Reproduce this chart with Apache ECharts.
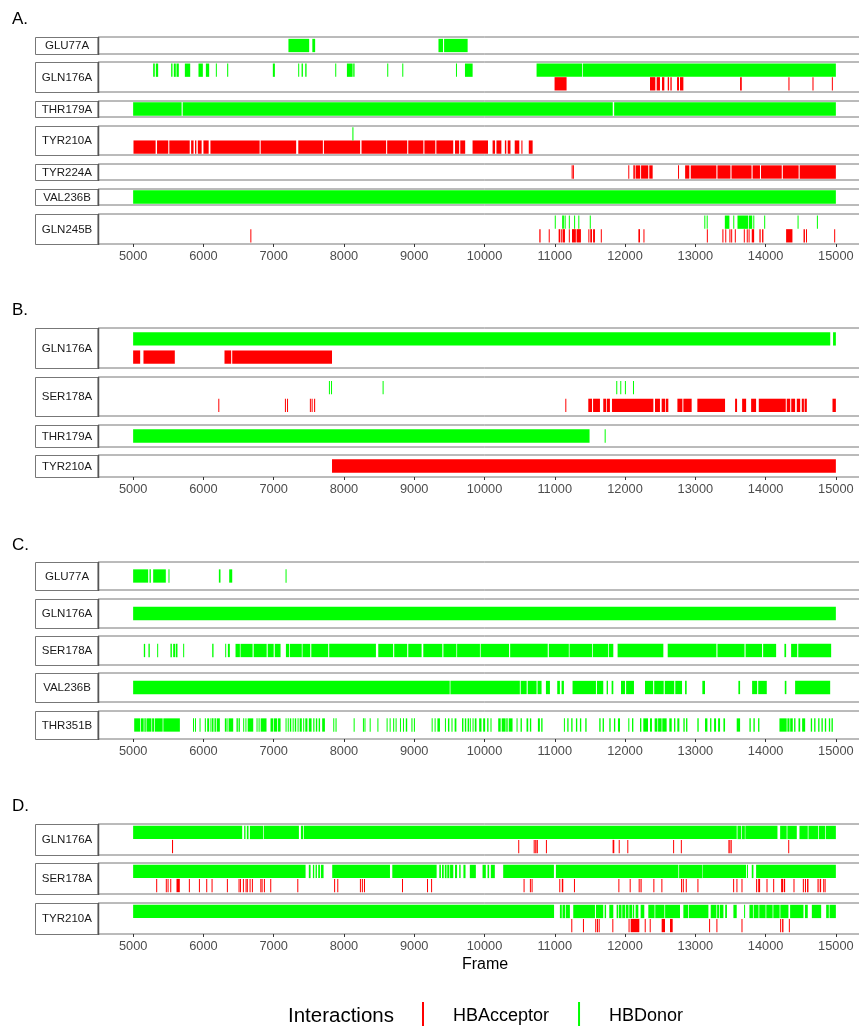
<!DOCTYPE html>
<html><head><meta charset="utf-8">
<script src="https://cdn.jsdelivr.net/npm/echarts@6/dist/echarts.min.js"></script>
<style>html,body{margin:0;padding:0;background:#fff;overflow:hidden}#c{width:872px;height:1026px}</style>
</head><body><div id="c"></div>
<script>
// ---------------- DATA ----------------
const frameTicks = [5000,6000,7000,8000,9000,10000,11000,12000,13000,14000,15000];
const interactionTypes = ['HBAcceptor','HBDonor'];
const panelTitles = ['A.','B.','C.','D.'];

// Panel A
const A_GLU77A_acc = [];
const A_GLU77A_don = [[7210,7505],[7550,7590],[9345,9410],[9425,9760]];
const A_GLN176A_acc = [[10997,11168],[12355,12431],[12450,12497],[12526,12559],[12607,12626],[12645,12664],[12740,12768],[12782,12830],[13637,13661],[14325,14340],[14667,14682],[14943,14957]];
const A_GLN176A_don = [[5285,5308],[5323,5356],[5541,5560],[5579,5607],[5617,5650],[5736,5812],[5930,5992],[6035,6082],[6177,6191],[6338,6353],[6988,7017],[7349,7363],[7397,7416],[7449,7468],[7876,7890],[8042,8123],[8132,8151],[8616,8630],[8830,8844],[9594,9608],[9722,9831],[10741,11391],[11401,15000]];
const A_THR179A_acc = [];
const A_THR179A_don = [[5000,5690],[5705,11825],[11845,15000]];
const A_TYR210A_acc = [[5005,5320],[5340,5500],[5515,5805],[5825,5860],[5880,5900],[5920,5975],[6000,6075],[6100,6800],[6815,7320],[7350,7700],[7715,8230],[8250,8600],[8615,8900],[8915,9130],[9145,9300],[9315,9555],[9580,9640],[9655,9725],[9830,10050],[10115,10150],[10170,10240],[10290,10310],[10330,10370],[10430,10495],[10525,10540],[10630,10685]];
const A_TYR210A_don = [[8120,8135]];
const A_TYR224A_acc = [[11240,11250],[11258,11268],[12046,12060],[12118,12140],[12150,12215],[12228,12330],[12345,12393],[12754,12768],[12855,12915],[12935,13300],[13315,13500],[13515,13800],[13815,13920],[13935,14230],[14245,14470],[14485,15000]];
const A_TYR224A_don = [];
const A_VAL236B_acc = [];
const A_VAL236B_don = [[5000,15000]];
const A_GLN245B_acc = [[6668,6676],[10780,10798],[10914,10922],[11055,11075],[11085,11100],[11110,11145],[11200,11210],[11245,11300],[11310,11372],[11478,11490],[11505,11530],[11545,11572],[11655,11663],[12190,12213],[12262,12270],[13164,13172],[13385,13400],[13426,13434],[13485,13500],[13510,13518],[13562,13570],[13690,13698],[13732,13745],[13758,13770],[13803,13837],[13912,13930],[13950,13969],[14292,14382],[14540,14560],[14575,14587],[14976,14990]];
const A_GLN245B_don = [[11000,11008],[11105,11130],[11140,11155],[11200,11210],[11275,11285],[11335,11345],[11498,11506],[13128,13136],[13162,13172],[13420,13485],[13540,13548],[13600,13750],[13760,13810],[13825,13833],[13980,13988],[14455,14463],[14730,14738]];

// Panel B
const B_GLN176A_acc = [[5000,5100],[5147,5593],[6300,6395],[6410,7830]];
const B_GLN176A_don = [[5000,14920],[14960,15000]];
const B_SER178A_acc = [[6212,6220],[7160,7170],[7190,7200],[7515,7525],[7540,7550],[7575,7590],[11150,11158],[11477,11530],[11545,11643],[11690,11730],[11740,11785],[11814,12403],[12426,12497],[12521,12570],[12580,12616],[12745,12816],[12830,12948],[13029,13423],[13566,13594],[13666,13723],[13794,13865],[13903,14287],[14301,14350],[14365,14420],[14444,14492],[14515,14545],[14555,14587],[14952,15000]];
const B_SER178A_don = [[7786,7796],[7816,7826],[8550,8560],[11875,11885],[11932,11942],[11998,12008],[12113,12123]];
const B_THR179A_acc = [];
const B_THR179A_don = [[5000,11495],[11710,11718]];
const B_TYR210A_acc = [[7830,15000]];
const B_TYR210A_don = [];

// Panel C
const C_GLU77A_acc = [];
const C_GLU77A_don = [[5000,5214],[5233,5252],[5285,5465],[5503,5517],[6220,6243],[6367,6410],[7169,7183]];
const C_GLN176A_acc = [];
const C_GLN176A_don = [[5000,15000]];
const C_SER178A_acc = [];
const C_SER178A_don = [[5152,5171],[5218,5237],[5342,5356],[5531,5551],[5570,5600],[5610,5631],[5712,5726],[6125,6144],[6310,6324],[6348,6376],[6457,6519],[6528,6700],[6715,6900],[6915,7000],[7015,7098],[7174,7221],[7231,7400],[7410,7520],[7535,7776],[7790,8455],[8488,8700],[8715,8900],[8915,9105],[9129,9400],[9415,9600],[9610,9935],[9945,10350],[10365,10900],[10915,11200],[11210,11530],[11540,11760],[11770,11833],[11894,12545],[12607,13300],[13315,13700],[13715,13950],[13965,14150],[14268,14292],[14363,14450],[14465,14933]];
const C_VAL236B_acc = [];
const C_VAL236B_don = [[5000,9505],[9515,10503],[10515,10600],[10615,10741],[10755,10812],[10874,10931],[11035,11073],[11097,11130],[11253,11586],[11600,11690],[11738,11757],[11809,11833],[11942,12000],[12015,12127],[12284,12400],[12415,12550],[12565,12700],[12715,12811],[12854,12877],[13100,13138],[13613,13637],[13808,13880],[13895,14017],[14273,14296],[14420,14919]];
const C_THR351B_acc = [];
const C_THR351B_don = [[5015,5100],[5110,5150],[5160,5180],[5190,5260],[5270,5300],[5310,5420],[5430,5665],[5852,5860],[5880,5890],[5945,5955],[6020,6035],[6054,6082],[6100,6110],[6122,6132],[6144,6154],[6166,6176],[6190,6234],[6305,6330],[6342,6352],[6364,6424],[6471,6490],[6500,6519],[6566,6580],[6598,6608],[6630,6709],[6756,6770],[6785,6800],[6815,6898],[6955,6990],[7000,7050],[7062,7098],[7169,7180],[7200,7210],[7230,7250],[7270,7280],[7300,7320],[7340,7350],[7370,7400],[7420,7430],[7450,7480],[7500,7539],[7563,7580],[7600,7620],[7640,7660],[7690,7729],[7848,7860],[7880,7895],[8138,8146],[8270,8278],[8292,8300],[8366,8374],[8476,8484],[8607,8620],[8650,8660],[8700,8715],[8735,8749],[8797,8810],[8840,8850],[8880,8900],[8960,8975],[8995,9010],[9248,9260],[9290,9300],[9330,9366],[9437,9450],[9480,9500],[9530,9545],[9575,9600],[9680,9700],[9720,9740],[9760,9780],[9791,9800],[9830,9839],[9862,9886],[9924,9957],[9981,10009],[10038,10057],[10085,10100],[10195,10230],[10245,10300],[10310,10330],[10345,10399],[10456,10470],[10513,10532],[10598,10622],[10646,10665],[10760,10788],[10807,10826],[11130,11144],[11178,11196],[11234,11253],[11301,11320],[11358,11377],[11434,11453],[11633,11652],[11681,11700],[11776,11795],[11842,11861],[11899,11928],[12046,12061],[12099,12118],[12213,12232],[12260,12327],[12355,12383],[12421,12460],[12470,12520],[12530,12592],[12630,12664],[12697,12716],[12744,12773],[12830,12849],[12868,12887],[13029,13048],[13138,13172],[13210,13229],[13267,13295],[13324,13352],[13400,13423],[13589,13637],[13770,13789],[13827,13846],[13893,13912],[14197,14300],[14310,14340],[14350,14387],[14406,14425],[14468,14492],[14520,14563],[14643,14662],[14691,14710],[14748,14767],[14795,14814],[14843,14862],[14900,14919],[14938,14957]];

// Panel D
const D_GLN176A_acc = [[5553,5568],[10480,10492],[10700,10712],[10722,10740],[10745,10755],[10874,10884],[11823,11847],[11910,11918],[12032,12042],[12684,12692],[12794,12802],[13471,13490],[13500,13518],[14322,14330]];
const D_GLN176A_don = [[5000,6552],[6580,6599],[6618,6642],[6661,6851],[6860,7359],[7387,7420],[7430,13589],[13600,13650],[13660,13705],[13712,14169],[14207,14300],[14310,14444],[14482,14600],[14610,14750],[14760,14850],[14860,15000]];
const D_SER178A_acc = [[5328,5336],[5465,5475],[5490,5500],[5528,5536],[5617,5664],[5793,5801],[5936,5944],[6040,6048],[6116,6124],[6334,6342],[6500,6508],[6520,6528],[6562,6570],[6600,6608],[6618,6626],[6657,6665],[6690,6698],[6810,6818],[6828,6836],[6861,6869],[6951,6959],[7336,7344],[7860,7868],[7905,7913],[8227,8240],[8255,8265],[8285,8298],[8826,8834],[9182,9190],[9240,9248],[10556,10564],[10646,10656],[10670,10680],[11064,11074],[11100,11121],[11273,11281],[11905,11913],[12066,12074],[12194,12205],[12220,12236],[12403,12411],[12517,12525],[12797,12810],[12822,12830],[12864,12872],[13030,13038],[13538,13546],[13585,13593],[13657,13665],[13865,13880],[13895,13922],[14013,14021],[14108,14116],[14221,14250],[14260,14278],[14397,14405],[14530,14545],[14560,14575],[14590,14610],[14739,14755],[14770,14790],[14820,14830],[14840,14848]];
const D_SER178A_don = [[5000,7454],[7500,7525],[7558,7577],[7596,7615],[7634,7658],[7672,7710],[7833,8655],[8688,9319],[9357,9380],[9395,9420],[9435,9460],[9470,9500],[9510,9556],[9580,9610],[9640,9660],[9700,9730],[9791,9877],[9972,10019],[10043,10066],[10090,10147],[10266,10988],[11016,12759],[12769,13100],[13105,13722],[13735,13745],[13803,13827],[13865,15000]];
const D_TYR210A_acc = [[11235,11243],[11401,11409],[11576,11590],[11600,11615],[11625,11633],[11819,11827],[12050,12058],[12080,12203],[12280,12288],[12351,12359],[12521,12569],[12640,12678],[13196,13204],[13300,13308],[13657,13665],[14207,14220],[14235,14254],[14331,14339]];
const D_TYR210A_don = [[5000,10990],[11073,11100],[11110,11150],[11160,11215],[11263,11572],[11586,11690],[11710,11730],[11776,11833],[11880,11900],[11910,11950],[11960,12000],[12010,12050],[12060,12100],[12110,12130],[12150,12189],[12222,12274],[12331,12420],[12430,12560],[12570,12782],[12830,12900],[12910,13186],[13219,13300],[13310,13340],[13350,13400],[13425,13450],[13542,13589],[13694,13708],[13770,13820],[13830,13900],[13910,14000],[14010,14100],[14110,14200],[14210,14325],[14349,14539],[14560,14600],[14658,14791],[14862,14900],[14910,15000]];

const rowsA = [['GLU77A',A_GLU77A_acc,A_GLU77A_don],['GLN176A',A_GLN176A_acc,A_GLN176A_don],['THR179A',A_THR179A_acc,A_THR179A_don],['TYR210A',A_TYR210A_acc,A_TYR210A_don],['TYR224A',A_TYR224A_acc,A_TYR224A_don],['VAL236B',A_VAL236B_acc,A_VAL236B_don],['GLN245B',A_GLN245B_acc,A_GLN245B_don]];
const rowsB = [['GLN176A',B_GLN176A_acc,B_GLN176A_don],['SER178A',B_SER178A_acc,B_SER178A_don],['THR179A',B_THR179A_acc,B_THR179A_don],['TYR210A',B_TYR210A_acc,B_TYR210A_don]];
const rowsC = [['GLU77A',C_GLU77A_acc,C_GLU77A_don],['GLN176A',C_GLN176A_acc,C_GLN176A_don],['SER178A',C_SER178A_acc,C_SER178A_don],['VAL236B',C_VAL236B_acc,C_VAL236B_don],['THR351B',C_THR351B_acc,C_THR351B_don]];
const rowsD = [['GLN176A',D_GLN176A_acc,D_GLN176A_don],['SER178A',D_SER178A_acc,D_SER178A_don],['TYR210A',D_TYR210A_acc,D_TYR210A_don]];

// ---------------- LAYOUT ----------------
const FONT = '"Liberation Sans", Arial, Helvetica, sans-serif';
const COLORS = {HBAcceptor:'#ff0000', HBDonor:'#00ff00'};
const BORDER = '#777777';
const panelLayout = [
  {rows: rowsA, top: 37.3, bottom: 243.7, titleY: 18},
  {rows: rowsB, top: 328.3, bottom: 477, titleY: 309},
  {rows: rowsC, top: 561.7, bottom: 739.3, titleY: 544},
  {rows: rowsD, top: 823.7, bottom: 933.7, titleY: 805}
];
const GAP = 8.7, LEFT = 98, RIGHT = 1, STRIP_L = 35, BAR_H = 13.3;

const grids = [], xAxes = [], yAxes = [], series = [], graphics = [];

function renderBar(params, api) {
  const x0 = api.value(0), x1 = api.value(1), lane = api.value(2);
  const p0 = api.coord([x0, lane]);
  const p1 = api.coord([x1, lane]);
  let w = p1[0] - p0[0];
  if (w < 1) w = 1;
  return {type:'rect', shape:{x:p0[0], y:p0[1] - BAR_H/2, width:w, height:BAR_H},
          style:{fill: api.visual('color')}};
}

panelLayout.forEach((panel, pi) => {
  graphics.push({type:'text', x: 12, y: panel.titleY + 1,
    style:{text: panelTitles[pi], font: '17px ' + FONT, fill:'#000', verticalAlign:'middle'}});
  const lanesOf = r => (r[1].length ? 1 : 0) + (r[2].length ? 1 : 0);
  const totalUnits = panel.rows.reduce((s, r) => s + lanesOf(r) + 0.2, 0);
  const unit = (panel.bottom - panel.top - GAP * (panel.rows.length - 1)) / totalUnits;
  let y = panel.top;
  panel.rows.forEach((r, ri) => {
    const lanes = lanesOf(r);
    const h = (lanes + 0.2) * unit;
    const gi = grids.length;
    const top = Math.round(y), height = Math.round(y + h) - Math.round(y);
    const isLast = ri === panel.rows.length - 1;
    grids.push({left: LEFT, right: RIGHT, top: top, height: height, show: true,
      borderColor: BORDER, borderWidth: 1, backgroundColor: 'transparent', containLabel: false});
    xAxes.push({type:'value', gridIndex: gi, min: 4500, max: 15500,
      axisLine:{show:false}, splitLine:{show:false},
      axisTick:{show: isLast, customValues: frameTicks, length: 3, lineStyle:{color:'#333', width:1}},
      axisLabel:{show: isLast, customValues: frameTicks, fontSize: 12.8, color:'#4d4d4d', margin: 6,
        fontFamily: FONT, formatter: v => String(v)}});
    yAxes.push({type:'value', gridIndex: gi, min: 0.4, max: lanes + 0.6, show: false});
    const accLane = 1;
    const donLane = r[1].length ? 2 : 1;
    if (r[1].length) series.push({type:'custom', name:'HBAcceptor', xAxisIndex: gi, yAxisIndex: gi,
      itemStyle:{color: COLORS.HBAcceptor}, renderItem: renderBar, encode:{x:[0,1], y:2},
      data: r[1].map(d => [d[0], d[1], accLane]), animation:false, silent:true});
    if (r[2].length) series.push({type:'custom', name:'HBDonor', xAxisIndex: gi, yAxisIndex: gi,
      itemStyle:{color: COLORS.HBDonor}, renderItem: renderBar, encode:{x:[0,1], y:2},
      data: r[2].map(d => [d[0], d[1], donLane]), animation:false, silent:true});
    // strip box + label
    graphics.push({type:'rect', shape:{x: STRIP_L + 0.5, y: top + 0.5, width: LEFT - STRIP_L, height: height},
      style:{fill:'#fff', stroke: BORDER, lineWidth: 1}, z: -1});
    graphics.push({type:'line', shape:{x1: LEFT + 0.5, y1: top, x2: LEFT + 0.5, y2: top + height + 1},
      style:{stroke:'#555', lineWidth: 1.5}, z: 10});
    graphics.push({type:'text', x: (STRIP_L + LEFT) / 2 + 0.5, y: top + height / 2 + 0.5,
      style:{text: r[0], font: '11.5px ' + FONT, fill:'#1a1a1a', align:'center', verticalAlign:'middle'}, z: 5});
    y += h + GAP;
  });
});

graphics.push({type:'text', x: 485, y: 965,
  style:{text:'Frame', font:'16px ' + FONT, fill:'#000', align:'center', verticalAlign:'middle'}});
graphics.push({type:'text', x: 288, y: 1016,
  style:{text:'Interactions', font:'20.5px ' + FONT, fill:'#000', align:'left', verticalAlign:'middle'}});

const chart = echarts.init(document.getElementById('c'), null, {renderer:'canvas'});
chart.setOption({
  animation: false,
  backgroundColor: '#fff',
  grid: grids, xAxis: xAxes, yAxis: yAxes, series: series,
  legend: {data: interactionTypes.map(t => ({name: t, icon: 'rect', itemStyle:{color: COLORS[t]}})),
    left: 422, top: 1002, orient: 'horizontal', padding: 0,
    itemWidth: 2, itemHeight: 28, itemGap: 29, selectedMode: false,
    textStyle:{fontSize: 18, color:'#000', fontFamily: FONT, padding:[0,0,0,24]}},
  graphic: graphics
});
</script></body></html>
